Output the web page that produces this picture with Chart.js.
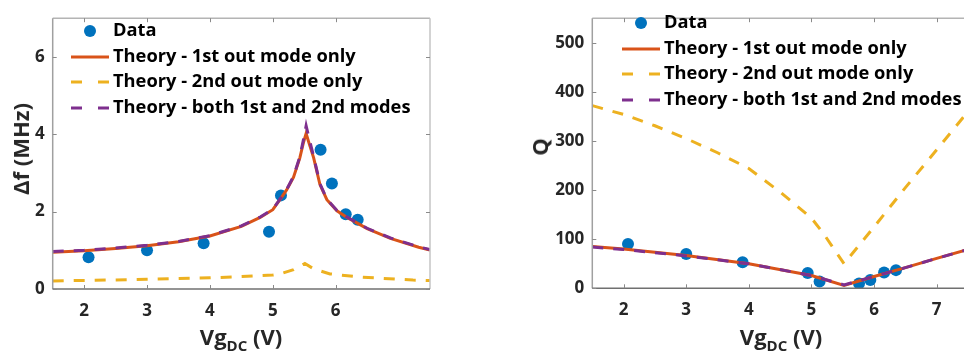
<!DOCTYPE html>
<html>
<head>
<meta charset="utf-8">
<script src="https://cdn.jsdelivr.net/npm/chart.js@4"></script>
<style>
  html, body { margin: 0; padding: 0; background: #fff; }
  body { width: 964px; height: 359px; overflow: hidden; position: relative; font-family: "Open Sans", Lato, sans-serif; color: #262626; }
  canvas { position: absolute; top: 0; }
  #left { left: 0; }
  #right { left: 484px; }
  .title { position: absolute; font-weight: 700; white-space: nowrap; }
  .xt { font-size: 22px; transform: translateX(-50%); top: 321px; }
  .xt sub { font-size: 15px; vertical-align: -6px; }
  .yt { font-size: 22px; line-height: 24px; transform: translate(-50%, -50%) rotate(-90deg); }
  .leg { position: absolute; font-weight: 700; font-size: 18.3px; white-space: nowrap; color: #000; line-height: 20px; }
  .leg svg { position: absolute; top: 0; }
  .leg span { position: absolute; top: -2px; }
</style>
</head>
<body>
<canvas id="left" width="480" height="359"></canvas>
<canvas id="right" width="490" height="359"></canvas>

<div class="title xt" style="left:241px">Vg<sub>DC</sub> (V)</div>
<div class="title xt" style="left:781px">Vg<sub>DC</sub> (V)</div>
<div class="title yt" style="left:20px; top:149px">&Delta;f (MHz)</div>
<div class="title yt" style="left:539px; top:147px">Q</div>

<script>
// measured points (shared gate voltage)
const vgData = [2.07, 3.0, 3.9, 4.94, 5.13, 5.76, 5.94, 6.16, 6.35];
const dfData = [0.82, 1.0, 1.18, 1.48, 2.42, 3.6, 2.73, 1.93, 1.79];
const qData  = [90, 70, 53, 31, 14, 10, 17, 32, 37];

// left panel, theory curves (MHz)
const dfX1 = [1.5, 2.0, 2.5, 3.0, 3.5, 4.0, 4.5, 4.8, 5.0, 5.13, 5.22, 5.33, 5.43, 5.49, 5.53, 5.58, 5.65, 5.75, 5.86, 6.02, 6.18, 6.5, 6.87, 7.32, 7.5];
const dfY1 = [0.95, 0.99, 1.05, 1.12, 1.22, 1.37, 1.62, 1.85, 2.05, 2.35, 2.56, 2.89, 3.39, 3.8, 4.02, 3.75, 3.39, 2.7, 2.31, 2.02, 1.85, 1.56, 1.31, 1.08, 1.01];
const dfYboth = [0.97, 1.0, 1.06, 1.13, 1.23, 1.38, 1.63, 1.86, 2.06, 2.36, 2.57, 2.91, 3.42, 3.88, 4.22, 3.88, 3.42, 2.72, 2.32, 2.03, 1.86, 1.57, 1.32, 1.09, 1.02];
const dfX2 = [1.5, 2.0, 3.0, 4.0, 4.5, 5.0, 5.12, 5.33, 5.51, 5.65, 5.91, 6.39, 7.23, 7.5];
const dfY2 = [0.21, 0.22, 0.25, 0.29, 0.32, 0.36, 0.39, 0.5, 0.66, 0.52, 0.39, 0.31, 0.23, 0.22];

// right panel, theory curves (Q)
const qX1 = [1.5, 2.0, 3.0, 4.0, 5.0, 5.52, 6.0, 6.5, 7.0, 7.5];
const qY1 = [85, 80, 67, 50, 26, 6, 24, 42, 61, 79];
const qYboth = [84, 79, 66, 50, 26, 7, 24, 42, 61, 79];
const qX2 = [1.5, 2.0, 2.5, 3.0, 3.5, 4.0, 4.5, 5.0, 5.2, 5.52, 6.0, 6.5, 7.0, 7.5];
const qY2 = [372, 354, 331, 305, 276, 244, 196, 143, 110, 50, 125, 205, 282, 360];

// ticks
const dfXTicks = [2, 3, 4, 5, 6];
const dfYTicks = [0, 2, 4, 6];
const qXTicks = [2, 3, 4, 5, 6, 7];
const qYTicks = [0, 100, 200, 300, 400, 500];

const legendLabels = ['Data', 'Theory - 1st out mode only', 'Theory - 2nd out mode only', 'Theory - both 1st and 2nd modes'];

const BLUE = '#0072BD', ORANGE = '#D95319', YELLOW = '#EDB120', PURPLE = '#7E2F8E';
const DASH = [11, 10];

function pts(xs, ys) {
  return xs.map(function (x, i) { return { x: x, y: ys[i] }; });
}

// box + inward ticks, matlab style
const framePlugin = {
  id: 'frame',
  afterDraw(chart) {
    const a = chart.chartArea, ctx = chart.ctx;
    ctx.save();
    ctx.lineWidth = 1.5;
    ctx.strokeStyle = '#b4b4b4';
    ctx.beginPath(); ctx.moveTo(a.left, a.top); ctx.lineTo(a.right, a.top); ctx.stroke();
    ctx.strokeStyle = '#c4c4c4';
    ctx.beginPath(); ctx.moveTo(a.right, a.top); ctx.lineTo(a.right, a.bottom); ctx.stroke();
    ctx.strokeStyle = '#a0a0a0';
    ctx.beginPath(); ctx.moveTo(a.left, a.top); ctx.lineTo(a.left, a.bottom); ctx.stroke();
    ctx.strokeStyle = '#707070';
    ctx.beginPath(); ctx.moveTo(a.left, a.bottom); ctx.lineTo(a.right, a.bottom); ctx.stroke();

    ctx.lineWidth = 1;
    ctx.strokeStyle = '#8a8a8a';
    chart.scales.x.ticks.forEach(function (t) {
      const px = Math.round(chart.scales.x.getPixelForValue(t.value)) + 0.5;
      ctx.beginPath();
      ctx.moveTo(px, a.bottom); ctx.lineTo(px, a.bottom - 4);
      ctx.moveTo(px, a.top); ctx.lineTo(px, a.top + 4);
      ctx.stroke();
    });
    chart.scales.y.ticks.forEach(function (t) {
      const py = Math.round(chart.scales.y.getPixelForValue(t.value)) + 0.5;
      ctx.beginPath();
      ctx.moveTo(a.left, py); ctx.lineTo(a.left + 4, py);
      ctx.moveTo(a.right, py); ctx.lineTo(a.right - 4, py);
      ctx.stroke();
    });
    ctx.restore();
  }
};

function makeChart(id, cfg) {
  const tickFont = { family: 'Open Sans', weight: 'bold', size: 17 };
  return new Chart(document.getElementById(id), {
    type: 'scatter',
    plugins: [framePlugin],
    data: {
      datasets: [
        { data: pts(vgData, cfg.data), backgroundColor: BLUE, borderWidth: 0, pointRadius: 6, order: 4 },
        { data: pts(cfg.x1, cfg.y1), showLine: true, borderColor: ORANGE, borderWidth: 3, pointRadius: 0, order: 2 },
        { data: pts(cfg.x2, cfg.y2), showLine: true, borderColor: YELLOW, borderWidth: 3, borderDash: DASH, pointRadius: 0, order: 3 },
        { data: pts(cfg.x1, cfg.yb), showLine: true, borderColor: PURPLE, borderWidth: 3, borderDash: DASH, pointRadius: 0, order: 1 }
      ]
    },
    options: {
      responsive: false,
      animation: false,
      layout: { padding: cfg.padding },
      plugins: { legend: { display: false }, tooltip: { enabled: false } },
      scales: {
        x: {
          type: 'linear', min: 1.5, max: 7.5,
          afterBuildTicks: function (s) { s.ticks = cfg.xTicks.map(function (v) { return { value: v }; }); },
          afterFit: function (s) { s.height = cfg.xHeight; },
          grid: { display: false, drawTicks: false },
          border: { display: false },
          ticks: { color: '#262626', font: tickFont, padding: 12, maxRotation: 0 }
        },
        y: {
          type: 'linear', min: 0, max: cfg.yMax,
          afterBuildTicks: function (s) { s.ticks = cfg.yTicks.map(function (v) { return { value: v }; }); },
          afterFit: function (s) { s.width = cfg.yWidth; },
          grid: { display: false, drawTicks: false },
          border: { display: false },
          ticks: { color: '#262626', font: tickFont, padding: 8 }
        }
      }
    }
  });
}

makeChart('left', {
  data: dfData, x1: dfX1, y1: dfY1, yb: dfYboth, x2: dfX2, y2: dfY2,
  xTicks: dfXTicks, yTicks: dfYTicks, yMax: 7,
  padding: { left: 0, right: 50, top: 9, bottom: 0 }, xHeight: 70, yWidth: 52.7
});
makeChart('right', {
  data: qData, x1: qX1, y1: qY1, yb: qYboth, x2: qX2, y2: qY2,
  xTicks: qXTicks, yTicks: qYTicks, yMax: 550,
  padding: { left: 0, right: 5, top: 5.7, bottom: 0 }, xHeight: 70.7, yWidth: 108.3
});

// html legends placed inside each plot
function legend(left, top) {
  const swatches = [
    '<circle cx="20" cy="10" r="6" fill="' + BLUE + '"/>',
    '<line x1="1" y1="10" x2="39" y2="10" stroke="' + ORANGE + '" stroke-width="3"/>',
    '<line x1="1" y1="10" x2="39" y2="10" stroke="' + YELLOW + '" stroke-width="3" stroke-dasharray="11 16"/>',
    '<line x1="1" y1="10" x2="39" y2="10" stroke="' + PURPLE + '" stroke-width="3" stroke-dasharray="11 16"/>'
  ];
  legendLabels.forEach(function (txt, i) {
    const d = document.createElement('div');
    d.className = 'leg';
    d.style.left = left + 'px';
    d.style.top = (top + i * 25.5) + 'px';
    d.innerHTML = '<svg width="40" height="20">' + swatches[i] + '</svg><span style="left:43px">' + txt + '</span>';
    document.body.appendChild(d);
  });
}
legend(70, 21);
legend(621, 13);
</script>
</body>
</html>
